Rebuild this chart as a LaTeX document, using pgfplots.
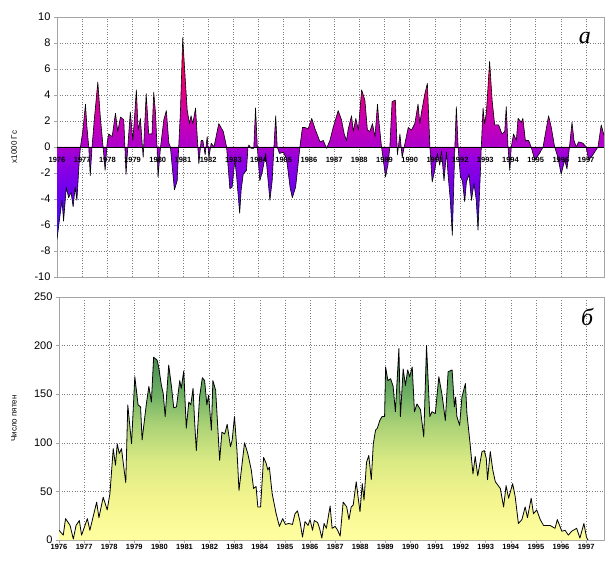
\documentclass[border=0pt]{standalone}
\usepackage{fontspec}
\setmainfont{Liberation Sans}
\newfontfamily\serifit{Liberation Serif}
\usepackage{pgfplots}
\usepackage{pgfplotstable}
\pgfplotsset{compat=1.18}
\definecolor{gridc}{RGB}{125,125,125}
\definecolor{framec}{RGB}{165,165,165}
\pgfdeclareverticalshading{magshade}{100bp}{%
  rgb(0bp)=(0.16,0.08,1); rgb(25bp)=(0.16,0.08,1); rgb(35bp)=(0.40,0,0.95);
  rgb(45bp)=(0.58,0,0.88); rgb(48bp)=(0.68,0,0.80); rgb(54bp)=(0.78,0,0.72);
  rgb(62bp)=(0.90,0,0.50); rgb(75bp)=(1,0,0.25); rgb(100bp)=(1,0,0.25)}
\pgfdeclareverticalshading{greenshade}{100bp}{%
  rgb(0bp)=(1,1,0.63); rgb(25bp)=(1,1,0.63); rgb(35bp)=(0.96,0.96,0.56);
  rgb(45bp)=(0.86,0.92,0.52); rgb(55bp)=(0.66,0.82,0.46); rgb(62bp)=(0.45,0.70,0.40);
  rgb(75bp)=(0.22,0.50,0.29); rgb(100bp)=(0.22,0.50,0.29)}

\pgfplotstableread{
x y
1976.00 -7.1
1976.13 -5.1
1976.20 -4.1
1976.26 -5.7
1976.37 -3.1
1976.46 -3.9
1976.56 -3.5
1976.64 -4.6
1976.72 -3.1
1976.79 -4.1
1976.87 -1.5
1976.93 0
1977.03 1.3
1977.13 3.3
1977.19 1.5
1977.26 0
1977.32 -2.2
1977.39 0
1977.48 2.1
1977.62 5.0
1977.72 2.3
1977.83 0
1977.91 -1.8
1977.99 0.3
1978.05 1.0
1978.19 0.8
1978.32 2.6
1978.41 1.2
1978.52 2.3
1978.65 2.1
1978.74 -2.1
1978.81 0
1978.91 2.7
1979.01 0.5
1979.07 2.1
1979.15 4.4
1979.22 1.3
1979.31 2.2
1979.42 -0.8
1979.54 4.1
1979.64 1.0
1979.77 1.0
1979.84 4.2
1979.91 2.6
1979.97 0
1980.01 -2.3
1980.11 0
1980.24 2.1
1980.34 2.8
1980.44 0.3
1980.50 0
1980.66 -3.3
1980.77 -2.6
1980.83 0
1980.90 2.8
1980.99 8.4
1981.10 4.9
1981.17 2.8
1981.26 1.8
1981.32 2.4
1981.39 1.8
1981.50 3.0
1981.56 1.0
1981.63 -1.3
1981.72 0.5
1981.79 0.5
1981.88 -0.6
1981.96 0.8
1982.03 -0.8
1982.12 0.3
1982.23 0
1982.42 1.8
1982.60 1.2
1982.73 0
1982.86 -3.2
1982.95 -3.1
1983.06 -1.0
1983.13 -2.3
1983.25 -5.1
1983.31 -3.3
1983.39 -2.1
1983.52 -1.8
1983.58 0
1983.62 0.15
1983.70 -0.1
1983.81 -0.1
1983.88 3.0
1983.95 0
1984.05 -2.6
1984.15 -1.9
1984.28 -0.5
1984.45 -4.1
1984.54 -2.6
1984.61 0
1984.68 2.4
1984.74 0
1984.83 -0.5
1984.98 -0.4
1985.11 -0.9
1985.25 -3.1
1985.34 -3.9
1985.47 -3.1
1985.56 -1.5
1985.64 0
1985.74 1.5
1985.84 1.5
1985.97 1.4
1986.11 2.2
1986.24 1.4
1986.44 0.4
1986.57 0.5
1986.70 -0.1
1986.83 0.5
1986.96 1.5
1987.16 2.8
1987.29 2.1
1987.40 1.0
1987.49 0.5
1987.56 1.4
1987.69 2.4
1987.76 1.2
1987.86 2.2
1987.96 1.3
1988.09 4.4
1988.22 3.6
1988.32 1.3
1988.42 1.2
1988.52 1.8
1988.62 0.8
1988.72 3.3
1988.77 2.1
1988.88 0
1989.04 -2.3
1989.14 -1.3
1989.21 0
1989.30 3.5
1989.43 3.6
1989.51 -0.6
1989.61 1.0
1989.70 -0.8
1989.78 0
1989.94 1.5
1990.07 1.3
1990.20 1.8
1990.33 3.3
1990.40 1.8
1990.46 2.6
1990.60 4.1
1990.70 4.9
1990.80 0
1990.89 -2.7
1990.99 -1.8
1991.10 -0.5
1991.19 -1.4
1991.26 -0.3
1991.36 -2.6
1991.46 -0.4
1991.52 -2.1
1991.61 -4.1
1991.69 -6.8
1991.79 0
1991.85 3.1
1991.92 0
1992.01 -2.3
1992.09 -2.6
1992.18 -4.2
1992.25 -2.7
1992.35 -2.1
1992.45 -4.1
1992.55 -2.8
1992.64 -4.1
1992.71 -6.4
1992.80 -2.1
1992.84 0
1992.91 3.0
1992.97 1.8
1993.04 2.6
1993.17 6.6
1993.27 3.6
1993.37 1.7
1993.53 1.7
1993.66 1.0
1993.77 1.2
1993.83 3.1
1993.90 0
1993.97 -1.8
1994.03 0
1994.12 1.0
1994.23 0.5
1994.30 2.2
1994.43 1.9
1994.49 2.2
1994.59 0.5
1994.72 0.5
1994.82 0
1994.96 -1.0
1995.15 -0.5
1995.29 0
1995.51 2.4
1995.62 1.5
1995.75 0
1995.88 -0.8
1996.01 -2.1
1996.15 -1.0
1996.24 -1.7
1996.34 0
1996.44 1.9
1996.52 0.5
1996.61 0
1996.70 0.4
1996.87 0.3
1997.00 0
1997.10 -1.0
1997.27 -0.6
1997.47 0
1997.60 1.7
1997.71 0.9
}\topdata

\pgfplotstableread{
x y
1976.00 10
1976.17 5
1976.26 22
1976.44 15
1976.57 1
1976.68 15
1976.81 20
1976.90 5
1977.13 22
1977.23 10
1977.50 39
1977.59 23
1977.76 44
1977.92 31
1978.03 48
1978.16 94
1978.25 77
1978.32 99
1978.40 89
1978.49 94
1978.58 75
1978.66 59
1978.74 139
1978.89 99
1979.02 168
1979.15 139
1979.25 137
1979.31 103
1979.48 140
1979.58 158
1979.68 142
1979.77 188
1979.91 185
1979.97 178
1980.08 159
1980.15 151
1980.23 127
1980.37 180
1980.48 158
1980.57 136
1980.68 137
1980.81 164
1980.87 156
1980.97 174
1981.07 115
1981.17 142
1981.25 139
1981.34 156
1981.40 123
1981.47 92
1981.60 147
1981.71 167
1981.80 164
1981.89 139
1981.96 149
1982.07 113
1982.13 164
1982.24 154
1982.40 82
1982.49 111
1982.60 109
1982.70 119
1982.83 96
1982.90 103
1982.99 127
1983.09 92
1983.17 51
1983.39 100
1983.52 89
1983.66 72
1983.75 53
1983.85 55
1983.92 34
1984.03 34
1984.15 85
1984.25 79
1984.32 72
1984.38 75
1984.49 48
1984.65 27
1984.78 14
1984.91 22
1985.02 16
1985.15 17
1985.30 16
1985.40 27
1985.50 30
1985.60 19
1985.70 3
1985.80 19
1985.92 15
1986.00 21
1986.10 10
1986.17 20
1986.30 18
1986.38 12
1986.47 2
1986.56 17
1986.65 12
1986.80 35
1986.88 12
1987.00 14
1987.10 10
1987.20 4
1987.32 39
1987.46 34
1987.55 21
1987.64 34
1987.72 36
1987.84 60
1987.91 45
1987.99 29
1988.08 58
1988.15 41
1988.25 80
1988.34 87
1988.44 62
1988.52 99
1988.61 113
1988.68 115
1988.78 123
1988.87 127
1988.97 127
1989.01 178
1989.10 164
1989.21 166
1989.31 158
1989.40 132
1989.54 197
1989.60 127
1989.71 176
1989.80 159
1989.89 175
1989.97 168
1990.07 178
1990.16 132
1990.26 140
1990.40 134
1990.53 106
1990.64 200
1990.77 127
1990.86 132
1990.99 130
1991.13 168
1991.26 149
1991.39 123
1991.50 173
1991.66 175
1991.75 137
1991.80 147
1991.85 127
1991.96 118
1992.05 147
1992.19 161
1992.25 130
1992.36 103
1992.49 68
1992.58 86
1992.68 66
1992.85 91
1992.94 92
1993.02 84
1993.07 62
1993.18 91
1993.28 72
1993.38 60
1993.58 53
1993.71 34
1993.81 56
1993.91 43
1994.07 58
1994.17 45
1994.30 17
1994.44 21
1994.57 34
1994.66 23
1994.81 43
1994.90 27
1995.03 31
1995.17 21
1995.30 15
1995.56 15
1995.76 12
1995.85 21
1996.03 9
1996.16 10
1996.29 5
1996.42 9
1996.62 12
1996.75 2
1996.91 17
1997.01 3
1997.07 0
}\botdata

\pgfplotsset{
  panel/.style={
    scale only axis, anchor=south west,
    xmin=1976, xmax=1997.71,
    xtick={1976,...,1997},
    grid=major,
    major grid style={gridc, dash pattern=on 0.9pt off 1.7pt, line width=0.5pt},
    axis line style={framec, line width=0.6pt},
    tick style={framec, line width=0.5pt},
    major tick length=3pt,
    tick align=outside,
    /pgf/number format/1000 sep={},
    /pgf/number format/assume math mode=true,
    x tick label style={font=\bfseries\fontsize{7.5}{8}\selectfont, inner sep=1pt},
    y tick label style={font=\fontsize{11}{12}\selectfont},
    ylabel style={font=\fontsize{8}{9}\selectfont, anchor=center},
    xtick pos=bottom, ytick pos=left,
  }
}

\begin{document}
\begin{tikzpicture}
\path[use as bounding box] (0pt,0pt) rectangle (605pt,560pt);

\begin{axis}[panel, at={(57pt,283pt)}, width=547pt, height=260pt,
  ymin=-10, ymax=10, ytick={-10,-8,...,10},
  xtick style={draw=none},
  xticklabels={},
  ylabel={x1000 Гс},
  ylabel style={at={(axis description cs:-0.0786,0.5)}},
  ]
  \addplot[draw=none, shading=magshade, forget plot] table {\topdata} \closedcycle;
  \addplot[black, line width=0.6pt, forget plot] coordinates {(1976,0) (1997.71,0)};
  \addplot[black, line width=0.6pt, line join=round] table {\topdata};
  \node[font=\serifit\itshape\fontsize{24}{24}\selectfont] at (axis description cs:0.965,0.92) {а};
\end{axis}

% overlay axis: year labels drawn over the filled area along the zero line
\begin{axis}[scale only axis, anchor=south west,
  at={(57pt,283pt)}, width=547pt, height=260pt,
  xmin=1976, xmax=1997.71, ymin=-10, ymax=10,
  xtick={1976,...,1997}, ytick=\empty,
  axis line style={draw=none},
  xtick style={draw=none},
  /pgf/number format/1000 sep={},
  /pgf/number format/assume math mode=true,
  x tick label style={font=\bfseries\fontsize{7.5}{8}\selectfont, inner sep=1pt, yshift=121pt},
  ]
\end{axis}

\begin{axis}[panel, at={(59pt,20pt)}, width=545pt, height=243pt,
  ymin=0, ymax=250, ytick={0,50,...,250},
  ylabel={Число пятен},
  ylabel style={at={(axis description cs:-0.0826,0.5)}},
  ]
  \addplot[draw=none, shading=greenshade, forget plot] table {\botdata} \closedcycle;
  \addplot[black, line width=0.8pt, line join=round] table {\botdata};
  \node[font=\serifit\itshape\fontsize{24}{24}\selectfont] at (axis description cs:0.969,0.918) {б};
\end{axis}
\end{tikzpicture}
\end{document}
